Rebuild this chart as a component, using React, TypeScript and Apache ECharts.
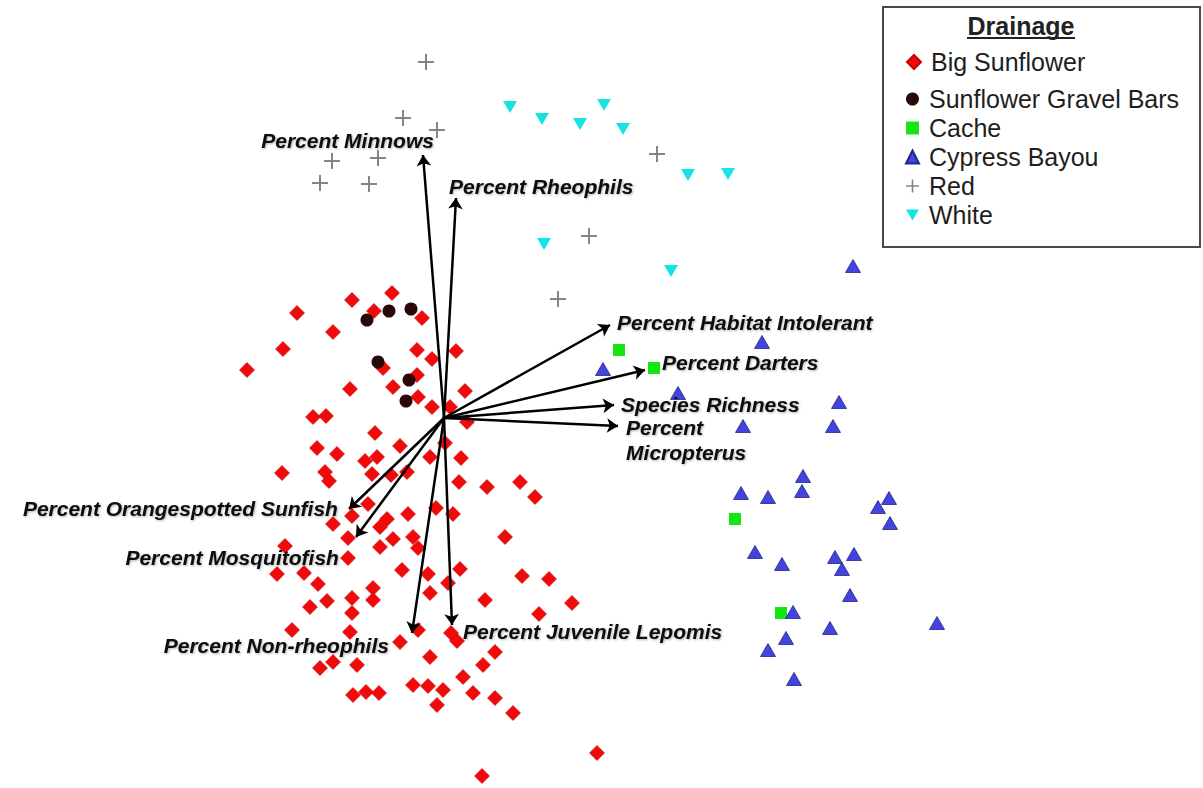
import React, { useEffect, useRef } from "react";
import * as echarts from "echarts";

const FONT = "'Liberation Sans', Arial, Helvetica, sans-serif";

// ---- Site scores (Axis 1, Axis 2) by drainage ----
const drainages = ["Big Sunflower", "Sunflower Gravel Bars", "Cache", "Cypress Bayou", "Red", "White"];

const bigSunflower: number[][] = [
  [-0.52, 1.25], [-0.92, 1.18], [-1.47, 1.05], [-0.7, 1.07], [-0.22, 1.0], [-1.11, 0.86], [-1.61, 0.69], [-0.27, 0.68], [0.12, 0.67], [-0.12, 0.59],
  [-1.97, 0.48], [-0.61, 0.5], [-0.27, 0.43], [-0.94, 0.29], [-0.51, 0.31], [0.21, 0.27], [-0.26, 0.21], [-0.12, 0.11], [0.06, 0.11], [-1.31, 0.01],
  [-1.18, 0.02], [-0.69, -0.15], [0.23, -0.04], [-1.27, -0.3], [-0.44, -0.28], [0.01, -0.25], [-1.07, -0.36], [-0.79, -0.43], [-0.67, -0.39], [-0.14, -0.39],
  [0.17, -0.4], [-1.62, -0.55], [-1.19, -0.54], [-0.72, -0.56], [-0.53, -0.57], [-0.37, -0.54], [0.15, -0.64], [0.43, -0.69], [0.76, -0.64], [0.91, -0.79],
  [-1.15, -0.63], [-1.11, -1.06], [-0.92, -0.98], [-0.76, -0.86], [-0.57, -1.01], [-0.36, -0.96], [-0.08, -0.9], [0.09, -0.96], [-0.96, -1.2], [-0.64, -1.29],
  [-0.51, -1.21], [-0.31, -1.19], [-0.26, -1.3], [0.61, -1.19], [-1.59, -1.28], [-0.96, -1.4], [-1.67, -1.56], [-1.4, -1.55], [-1.26, -1.66], [-0.42, -1.52],
  [-0.16, -1.56], [0.16, -1.51], [0.04, -1.65], [-0.14, -1.75], [-0.71, -1.7], [-0.71, -1.82], [-0.92, -1.8], [-1.17, -1.83], [-0.92, -1.95], [-1.34, -1.89],
  [0.41, -1.82], [0.78, -1.58], [1.05, -1.61], [1.28, -1.85], [0.95, -1.96], [-1.52, -2.12], [-0.94, -2.14], [-0.26, -2.12], [0.07, -2.15], [0.13, -2.23],
  [-0.44, -2.24], [-0.14, -2.39], [-1.24, -2.5], [-1.11, -2.44], [-0.87, -2.47], [0.39, -2.47], [0.51, -2.34], [0.19, -2.59], [-0.91, -2.77], [-0.78, -2.74],
  [-0.65, -2.75], [-0.31, -2.67], [-0.16, -2.68], [-0.01, -2.72], [-0.07, -2.87], [0.29, -2.75], [0.51, -2.8], [0.69, -2.95], [1.53, -3.35], [0.38, -3.58],
  [-0.64, -1.09],
];

const gravelBars: number[][] = [
  [-0.77, 0.98], [-0.55, 1.07], [-0.33, 1.09], [-0.66, 0.56], [-0.35, 0.38], [-0.38, 0.17],
];

const cache: number[][] = [
  [1.75, 0.68], [2.1, 0.5], [2.91, -1.01], [3.37, -1.95],
];

const cypressBayou: number[][] = [
  [4.09, 1.52], [3.18, 0.76], [1.59, 0.49], [2.34, 0.25], [3.95, 0.16], [2.99, -0.08], [3.89, -0.08], [3.59, -0.58], [3.58, -0.73], [2.97, -0.75],
  [3.24, -0.79], [4.45, -0.8], [4.34, -0.89], [4.46, -1.05], [3.11, -1.34], [3.38, -1.46], [3.91, -1.39], [4.1, -1.36], [3.98, -1.51], [4.06, -1.77],
  [3.49, -1.94], [3.86, -2.1], [4.93, -2.05], [3.42, -2.2], [3.24, -2.32], [3.5, -2.61],
];

const red: number[][] = [
  [-0.18, 3.56], [-0.41, 3.0], [-0.07, 2.88], [-1.12, 2.57], [-0.66, 2.6], [-1.24, 2.35], [-0.75, 2.34], [2.13, 2.64], [1.45, 1.82], [1.14, 1.19],
];

const white: number[][] = [
  [0.66, 3.11], [0.98, 2.99], [1.36, 2.94], [1.6, 3.13], [1.79, 2.89], [2.44, 2.43], [2.84, 2.44], [1.0, 1.74], [2.27, 1.47],
];

// ---- Biplot vectors (variable loadings) ----
const vectorNames = [
  "Percent Minnows",
  "Percent Rheophils",
  "Percent Habitat Intolerant",
  "Percent Darters",
  "Species Richness",
  "Percent\nMicropterus",
  "Percent Orangespotted Sunfish",
  "Percent Mosquitofish",
  "Percent Non-rheophils",
  "Percent Juvenile Lepomis",
];
const vectorAxis1 = [-0.21, 0.12, 1.66, 2.01, 1.7, 1.74, -0.95, -0.88, -0.32, 0.08];
const vectorAxis2 = [2.63, 2.2, 0.93, 0.48, 0.13, -0.08, -0.91, -1.19, -2.15, -2.07];

// label placement for each vector (layout, not data)
const labelPlacement: { x: number; y: number; side: "left" | "right" }[] = [
  { x: -0.1, y: 2.78, side: "left" },
  { x: 0.05, y: 2.32, side: "right" },
  { x: 1.73, y: 0.96, side: "right" },
  { x: 2.18, y: 0.56, side: "right" },
  { x: 1.77, y: 0.14, side: "right" },
  { x: 1.82, y: -0.22, side: "right" },
  { x: -1.06, y: -0.9, side: "left" },
  { x: -1.05, y: -1.39, side: "left" },
  { x: -0.55, y: -2.27, side: "left" },
  { x: 0.19, y: -2.13, side: "right" },
];

const PLUS = "path://M7,0H9V7H16V9H9V16H7V9H0V7H7Z";
const DOWN_TRI = "path://M0,0L12,0L6,10Z";

export default function App() {
  const ref = useRef<HTMLDivElement>(null);
  useEffect(() => {
    if (!ref.current) return;
    const chart = echarts.init(ref.current, null, { renderer: "svg" });

    const scatterBase = { type: "scatter", silent: true, z: 2 };
    const legendText = {
      fontSize: 25,
      lineHeight: 26,
      color: "#1e1e1e",
      fontFamily: FONT,
      padding: [0, 0, 0, 5],
    };

    const option: any = {
      animation: false,
      backgroundColor: "#ffffff",
      grid: { left: 0, right: 0, top: 0, bottom: 0 },
      xAxis: { type: "value", min: -4.44, max: 7.59, show: false },
      yAxis: { type: "value", min: -3.7, max: 4.18, show: false },
      graphic: [
        {
          type: "rect",
          z: 0,
          shape: { x: 883, y: 7, width: 317, height: 240 },
          style: { fill: "#ffffff", stroke: "#4a4a4a", lineWidth: 2 },
        },
        {
          type: "text",
          z: 5,
          x: 1021,
          y: 26,
          style: {
            text: "Drainage",
            fill: "#222",
            font: `bold 25px ${FONT}`,
            textAlign: "center",
            textVerticalAlign: "middle",
          },
        },
        {
          type: "line",
          z: 5,
          shape: { x1: 967, y1: 38, x2: 1075, y2: 38 },
          style: { stroke: "#222", lineWidth: 2 },
        },
      ],
      legend: [
        {
          data: [drainages[0]],
          orient: "vertical",
          left: 906,
          top: 49,
          padding: 0,
          itemWidth: 14,
          itemHeight: 14,
          itemGap: 3,
          selectedMode: false,
          z: 6,
          textStyle: legendText,
        },
        {
          data: drainages.slice(1),
          orient: "vertical",
          left: 905,
          top: 86,
          padding: 0,
          itemWidth: 13,
          itemHeight: 13,
          itemGap: 3,
          selectedMode: false,
          z: 6,
          textStyle: legendText,
        },
      ],
      series: [
        {
          ...scatterBase,
          name: drainages[0],
          data: bigSunflower,
          symbol: "diamond",
          symbolSize: [15, 15],
          itemStyle: { color: "#f00a0a", borderColor: "#cc0000", borderWidth: 0.6, opacity: 1 },
        },
        {
          ...scatterBase,
          name: drainages[1],
          data: gravelBars,
          symbol: "circle",
          symbolSize: 13,
          itemStyle: { color: "#2a0808", opacity: 1 },
        },
        {
          ...scatterBase,
          name: drainages[2],
          data: cache,
          symbol: "rect",
          symbolSize: 12,
          itemStyle: { color: "#14e614", opacity: 1 },
        },
        {
          ...scatterBase,
          name: drainages[3],
          data: cypressBayou,
          symbol: "triangle",
          symbolSize: [15, 13],
          itemStyle: { color: "#4343df", borderColor: "#23277f", borderWidth: 0.8, opacity: 1 },
        },
        {
          ...scatterBase,
          name: drainages[4],
          data: red,
          symbol: PLUS,
          symbolSize: 16,
          itemStyle: { color: "#858585", opacity: 1 },
        },
        {
          ...scatterBase,
          name: drainages[5],
          data: white,
          symbol: DOWN_TRI,
          symbolSize: [14, 12],
          itemStyle: { color: "#14e4e4", opacity: 1 },
        },
        {
          type: "lines",
          name: "vectors",
          coordinateSystem: "cartesian2d",
          silent: true,
          z: 5,
          symbol: ["none", "arrow"],
          symbolSize: 11,
          lineStyle: { color: "#000", width: 2.5, opacity: 1, curveness: 0 },
          data: vectorNames.map((n, i) => ({
            name: n,
            coords: [
              [0, 0],
              [vectorAxis1[i], vectorAxis2[i]],
            ],
          })),
        },
        {
          type: "scatter",
          name: "vectorLabels",
          silent: true,
          z: 6,
          symbolSize: 0.1,
          itemStyle: { color: "transparent", opacity: 1 },
          data: vectorNames.map((n, i) => ({
            name: n,
            value: [labelPlacement[i].x, labelPlacement[i].y],
            label: {
              show: true,
              position: labelPlacement[i].side,
              distance: 0,
              formatter: n,
              color: "#0a0a0a",
              opacity: 1,
              fontFamily: FONT,
              fontSize: 21,
              fontWeight: "bold",
              fontStyle: "italic",
              lineHeight: 25,
              align: labelPlacement[i].side === "left" ? "right" : "left",
              textShadowColor: "rgba(0,0,0,0.3)",
              textShadowBlur: 2,
              textShadowOffsetX: 1,
              textShadowOffsetY: 1,
            },
          })),
        },
      ],
    };

    chart.setOption(option);
    return () => chart.dispose();
  }, []);

  return (
    <div
      ref={ref}
      style={{ position: "fixed", left: 0, top: 0, width: 1203, height: 788, background: "#fff" }}
    />
  );
}
